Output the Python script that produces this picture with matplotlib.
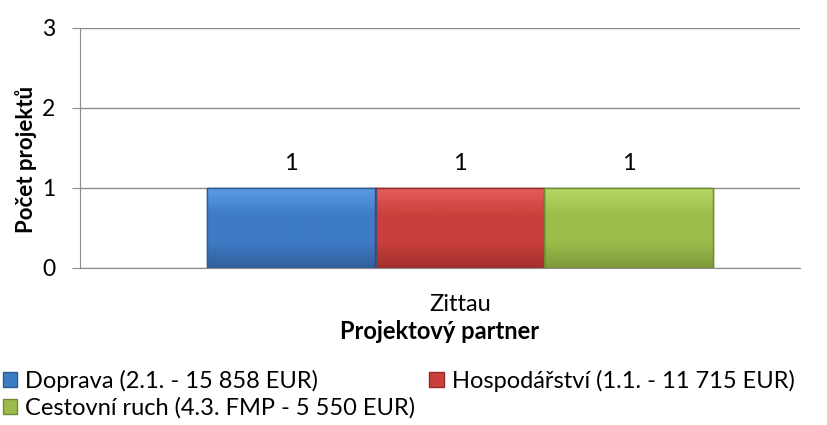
import matplotlib
matplotlib.use("Agg")
import matplotlib.pyplot as plt
import numpy as np
from matplotlib.patches import Patch
from matplotlib.colors import LinearSegmentedColormap

categories = ["Zittau"]
series_names = ["Doprava (2.1. - 15 858 EUR)",
                "Hospodářství (1.1. - 11 715 EUR)",
                "Cestovní ruch (4.3. FMP - 5 550 EUR)"]
series_values = [[1], [1], [1]]
colors = ["#3E7BC5", "#C93F3C", "#9CBD4C"]
tops = ["#5E9BE6", "#E35E5B", "#B5D866"]
bottoms = ["#31609E", "#A3302E", "#7E9A3A"]
edges = ["#2C5A94", "#962C2A", "#6F8A33"]
yticks = [0, 1, 2, 3]

plt.rcParams['font.family'] = ['Lato', 'DejaVu Sans']

fig = plt.figure(figsize=(8.27, 4.25), dpi=100)
ax = fig.add_axes([80/827, 1-268/425, 720/827, 240/425])

offsets = [-1, 0, 1]
for vals, off, c, t, bt, ec, name in zip(series_values, offsets, colors, tops, bottoms, edges, series_names):
    xs = [i + off for i in range(len(categories))]
    bars = ax.bar(xs, vals, width=1.0, color=c, edgecolor=ec, linewidth=1.0, label=name, zorder=3)
    cmap = LinearSegmentedColormap.from_list("g", [bt, c, c, t])
    for b, v in zip(bars, vals):
        x0, w = b.get_x(), b.get_width()
        grad = np.linspace(0, 1, 100).reshape(-1, 1)
        im = ax.imshow(grad, extent=(x0, x0 + w, 0, v), origin='lower', aspect='auto',
                       cmap=cmap, zorder=3.5)
        im.set_clip_path(b)
        ax.bar([x0 + w/2], [v], width=w, color='none', edgecolor=ec, linewidth=1.0, zorder=4)
        ax.text(x0 + w/2, v + 0.225, f"{v}", ha='center', va='baseline',
                fontsize=17, color='black')

ax.set_xlim(-380/169, 340/169)
ax.set_ylim(0, 3)
ax.set_yticks(yticks)
ax.set_yticklabels([str(t) for t in yticks], fontsize=16.5)
ax.yaxis.grid(True, color='#8c8c8c', linewidth=1.0, zorder=0)
ax.tick_params(axis='y', length=5.8, color='#8c8c8c', pad=12)
ax.set_xticks([0])
ax.set_xticklabels(categories, fontsize=17)
ax.tick_params(axis='x', length=0, pad=18.5)
for s in ['top', 'right']:
    ax.spines[s].set_visible(False)
ax.spines['left'].set_color('#8c8c8c')
ax.spines['bottom'].set_color('#8c8c8c')
ax.set_ylabel("Počet projektů", fontsize=16, fontweight='bold')
ax.yaxis.set_label_coords(-0.06, 0.454)
ax.set_xlabel("Projektový partner", fontsize=17, fontweight='bold', labelpad=3.5)

handles = [Patch(facecolor=c, edgecolor=ec) for c, ec in zip(colors, edges)]
order = [0, 2, 1]
leg = fig.legend([handles[i] for i in order], [series_names[i] for i in order],
           loc='upper left', bbox_to_anchor=(3/827, 0.129),
           ncol=2, frameon=False, fontsize=17, handlelength=0.6, handleheight=0.6,
           handletextpad=0.34, columnspacing=0.6, labelspacing=0.22,
           borderaxespad=0, borderpad=0)

fig.savefig("out.png", dpi=100)
